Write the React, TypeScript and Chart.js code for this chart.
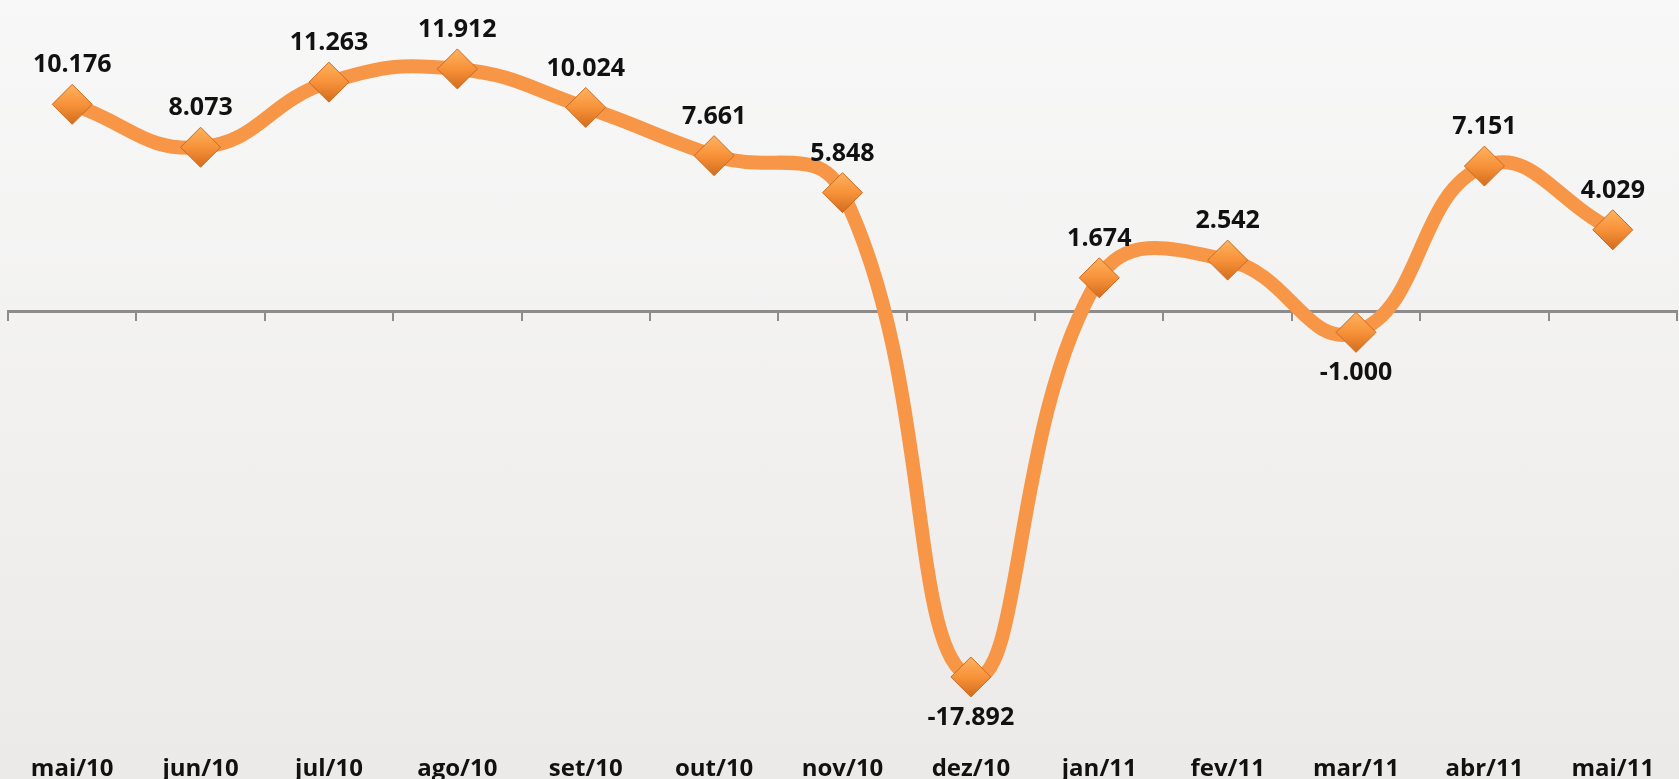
import React, { useEffect, useRef } from "react";
import { Chart, registerables } from "chart.js";

Chart.register(...registerables);

const categories = [
  "mai/10", "jun/10", "jul/10", "ago/10", "set/10", "out/10", "nov/10",
  "dez/10", "jan/11", "fev/11", "mar/11", "abr/11", "mai/11",
];
const values = [
  10.176, 8.073, 11.263, 11.912, 10.024, 7.661, 5.848,
  -17.892, 1.674, 2.542, -1.0, 7.151, 4.029,
];
const valueLabels = [
  "10.176", "8.073", "11.263", "11.912", "10.024", "7.661", "5.848",
  "-17.892", "1.674", "2.542", "-1.000", "7.151", "4.029",
];

const FONT = "'Open Sans', 'Liberation Sans', sans-serif";

const dataLabelPlugin = {
  id: "dataLabels",
  afterDatasetsDraw(chart: any) {
    const meta = chart.getDatasetMeta(0);
    const c = chart.ctx;
    c.save();
    c.font = `bold 25px ${FONT}`;
    c.fillStyle = "#111111";
    c.textAlign = "center";
    c.textBaseline = "middle";
    meta.data.forEach((pt: any, i: number) => {
      const v = values[i];
      const dy = v < 0 ? 41 : -39;
      c.fillText(valueLabels[i], pt.x, pt.y + dy);
    });
    c.restore();
  },
};

export default function App() {
  const ref = useRef<HTMLCanvasElement>(null);
  useEffect(() => {
    if (!ref.current) return;
    const chart = new Chart(ref.current, {
      type: "line",
      data: {
        labels: categories,
        datasets: [
          {
            data: values,
            borderColor: "#F79646",
            borderWidth: 14,
            tension: 0.45,
            pointStyle: "rectRot",
            pointRadius: 20,
            pointBorderWidth: 1,
            pointBorderColor: "#C86A22",
            pointBackgroundColor: (ctx: any) => {
              if (ctx.type !== "data") return "#F08A2C";
              const ch = ctx.chart;
              const ys = ch.scales && ch.scales.y;
              if (!ys || !ctx.parsed) return "#F08A2C";
              const y = ys.getPixelForValue(ctx.parsed.y);
              if (!isFinite(y)) return "#F08A2C";
              const g = ch.ctx.createLinearGradient(0, y - 20, 0, y + 20);
              g.addColorStop(0, "#FFB25E");
              g.addColorStop(0.5, "#F7923A");
              g.addColorStop(1, "#D46C1C");
              return g;
            },
            clip: false as any,
          },
        ],
      },
      options: {
        animation: false,
        responsive: false,
        maintainAspectRatio: false,
        layout: { autoPadding: false, padding: { left: 8, right: 2, top: 4.5, bottom: 0 } },
        plugins: {
          legend: { display: false },
          tooltip: { enabled: false },
        },
        scales: {
          y: {
            display: false,
            min: -21,
            max: 15.07,
          },
          x: {
            type: "category",
            position: "bottom",
            offset: true,
            grid: { display: false, drawTicks: false },
            border: { display: false },
            ticks: {
              color: "#111111",
              font: { family: FONT, size: 24, weight: "bold" },
              padding: 14,
              maxRotation: 0,
              autoSkip: false,
            },
            afterFit: (s: any) => {
              s.height = 38.6;
              s.paddingLeft = 0;
              s.paddingRight = 0;
            },
          },
          x2: {
            type: "category",
            labels: categories,
            position: { y: 0 } as any,
            offset: true,
            grid: {
              display: true,
              offset: true,
              drawOnChartArea: false,
              drawTicks: true,
              tickLength: 8,
              color: "#8C8C8C",
              lineWidth: 2,
            },
            border: { display: true, color: "#8C8C8C", width: 3 },
            ticks: { display: false },
            afterFit: (s: any) => {
              s.height = 0;
              s.paddingLeft = 0;
              s.paddingRight = 0;
            },
          },
        },
      },
      plugins: [dataLabelPlugin],
    });
    return () => chart.destroy();
  }, []);

  return (
    <div
      style={{
        position: "fixed",
        left: 0,
        top: 0,
        width: 1679,
        height: 779,
        background: "linear-gradient(to bottom, #F8F8F8 0%, #F2F1F0 50%, #ECEAE8 100%)",
      }}
    >
      <canvas ref={ref} width={1679} height={779} style={{ display: "block" }} />
    </div>
  );
}
